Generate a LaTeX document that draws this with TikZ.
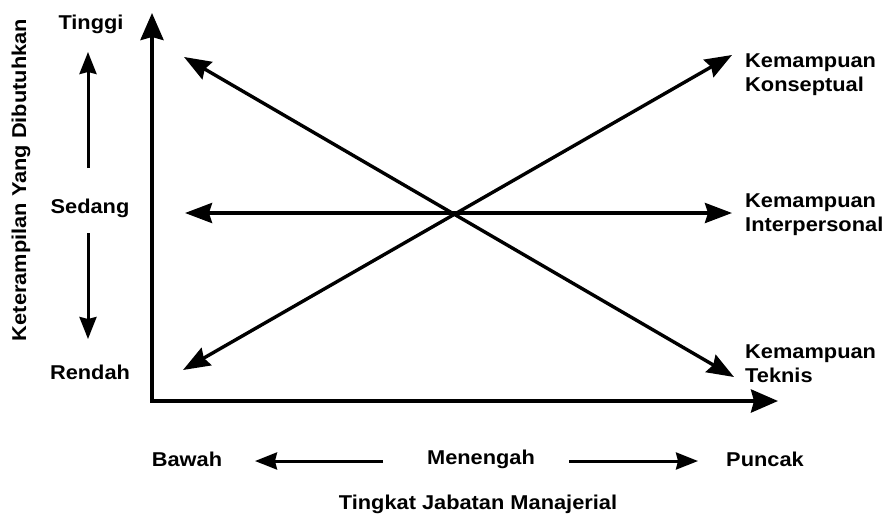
\documentclass[tikz,border=0pt]{standalone}
\usepackage{fontspec}
\setmainfont{Liberation Sans}[FakeStretch=1.09]
\usetikzlibrary{arrows.meta}
\tikzset{
  lbl/.style={font=\fontsize{20}{24}\selectfont\bfseries, inner sep=0pt},
  rlbl/.style={lbl, anchor=west, align=left},
  axis/.style={line width=3.8pt, -{Stealth[length=27pt,width=23pt,inset=3pt]}},
  skill/.style={line width=3.4pt, {Stealth[length=27pt,width=20pt,inset=3pt]}-{Stealth[length=27pt,width=20pt,inset=3pt]}},
  small/.style={line width=3pt, -{Stealth[length=22pt,width=17pt,inset=2pt]}}
}
\begin{document}
\begin{tikzpicture}[x=1pt,y=-1pt]
\useasboundingbox (0,0) rectangle (885,517);
% axes
\coordinate (O) at (152,401);
\coordinate (ytop) at (152,13);
\coordinate (xend) at (778,401);
\draw[axis] ([yshift=-1.9pt]O) -- (ytop);
\draw[axis] ([xshift=-1.9pt]O) -- (xend);
% vertical labels
\node[lbl] (tinggi) at (91,24) {Tinggi};
\node[lbl] (sedang) at (90,208) {Sedang};
\node[lbl] (rendah) at (90,372) {Rendah};
\coordinate (upA) at (88,168);
\coordinate (upB) at (88,52);
\coordinate (dnA) at (88,233);
\coordinate (dnB) at (88,339);
\draw[small] (upA) -- (upB);
\draw[small] (dnA) -- (dnB);
\node[lbl, rotate=90] (ylabel) at (21,180) {Keterampilan Yang Dibutuhkan};
% skill lines
\coordinate (k1) at (183,370);
\coordinate (k2) at (732,55);
\coordinate (i1) at (185,213);
\coordinate (i2) at (732,213);
\coordinate (t1) at (184,57);
\coordinate (t2) at (734,377);
\draw[skill] (k1) -- (k2);
\draw[skill] (i1) -- (i2);
\draw[skill] (t1) -- (t2);
\node[rlbl] (konsep) at (745,75) {Kemampuan\\Konseptual};
\node[rlbl] (inter) at (745,215) {Kemampuan\\Interpersonal};
\node[rlbl] (teknis) at (745,364) {Kemampuan\\Teknis};
% bottom
\node[lbl] (bawah) at (187,459) {Bawah};
\node[lbl] (menengah) at (481,459) {Menengah};
\node[lbl] (puncak) at (765,459) {Puncak};
\coordinate (la) at (383,461);
\coordinate (lb) at (255,461);
\coordinate (ra) at (569,461);
\coordinate (rb) at (698,461);
\draw[small] (la) -- (lb);
\draw[small] (ra) -- (rb);
\node[lbl] (title) at (478,504) {Tingkat Jabatan Manajerial};
\end{tikzpicture}
\end{document}
